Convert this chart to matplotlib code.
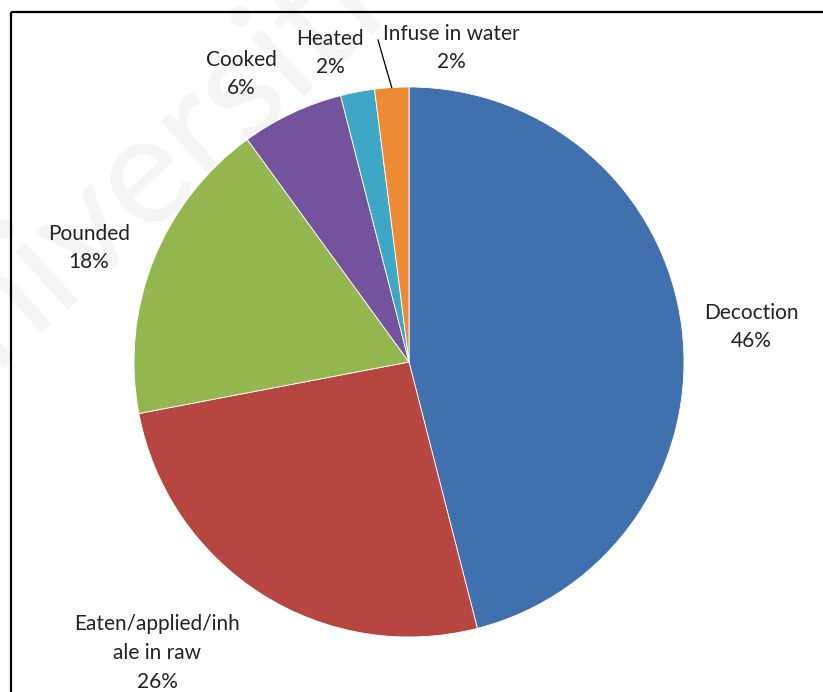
import matplotlib.pyplot as plt
import numpy as np

# Preparation methods and their share of reported uses
methods = ["Decoction", "Eaten/applied/inh\nale in raw", "Pounded",
           "Cooked", "Heated", "Infuse in water"]
shares = [46, 26, 18, 6, 2, 2]
colours = ["#4170AE", "#B84640", "#93B64E", "#74539E", "#3FA7C6", "#EE8A33"]

W, H = 823, 692
# label anchors in pixels (x from left, y from top)
label_xy = [(751, 327), (157, 653), (89, 248), (241, 74), (330, 53), (451, 48)]

plt.rcParams['font.family'] = ['Lato', 'DejaVu Sans']

fig = plt.figure(figsize=(W / 100, H / 100), dpi=100)
ax = fig.add_axes([0, 0, 1, 1])

# faint watermark behind everything
ax.text(-90, H - 440, "Universiti", fontsize=110, color="#f5f5f5",
        rotation=42, rotation_mode='anchor', ha='left', va='baseline',
        zorder=0, clip_on=True)

cx, cy, r = 409, H - 362, 275
wedges, _ = ax.pie(shares, colors=colours, startangle=90, counterclock=False,
                   center=(cx, cy), radius=r, frame=True,
                   wedgeprops=dict(edgecolor='white', linewidth=0.6))
ax.set_xlim(0, W)
ax.set_ylim(0, H)
ax.set_aspect('equal')
ax.axis('off')

for name, v, (lx, ly) in zip(methods, shares, label_xy):
    ax.text(lx, H - ly, f"{name}\n{v}%", ha='center', va='center',
            fontsize=15, color='#222222', linespacing=1.55, zorder=5)

# leader line for the small "Infuse in water" slice
last = wedges[-1]
mid = np.deg2rad((last.theta1 + last.theta2) / 2)
ax.plot([378, cx + r * np.cos(mid)], [H - 40, cy + r * np.sin(mid)],
        color='black', lw=0.9, zorder=5)

# frame edges (left and top only)
ax.plot([11, 11], [0, H - 12], color='black', lw=1.6, solid_capstyle='butt',
        clip_on=False, zorder=6)
ax.plot([11, W], [H - 12, H - 12], color='black', lw=1.6,
        solid_capstyle='butt', clip_on=False, zorder=6)

fig.savefig("out.png", dpi=100)
